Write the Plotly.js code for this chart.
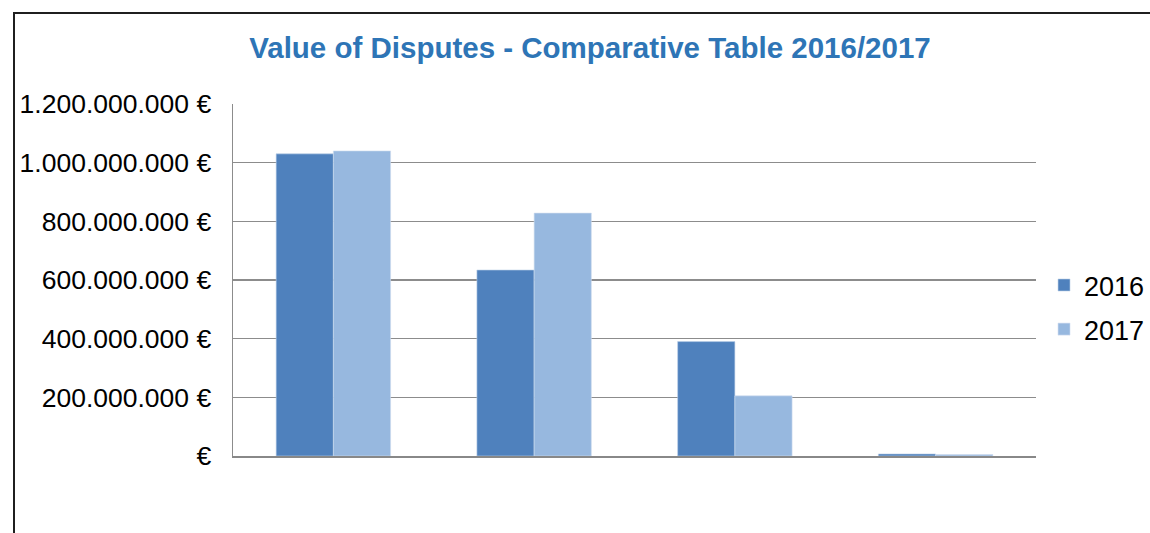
<!DOCTYPE html>
<html>
<head>
<meta charset="utf-8">
<script src="https://cdn.plot.ly/plotly-3.0.1.min.js"></script>
<style>
  html, body { margin: 0; padding: 0; background: #ffffff; overflow: hidden; }
  #wrap { position: relative; width: 1150px; height: 533px; overflow: hidden; }
  #chart { position: absolute; left: 0; top: 0; width: 1150px; height: 533px; }
  #frameTop { position: absolute; left: 13px; top: 12px; width: 1137px; height: 2px; background: #1f1f1f; pointer-events: none; }
  #frameLeft { position: absolute; left: 13px; top: 12px; width: 2px; height: 521px; background: #1f1f1f; pointer-events: none; }
</style>
</head>
<body>
<div id="wrap">
  <div id="chart"></div>
  <div id="frameTop"></div>
  <div id="frameLeft"></div>
</div>
<script>
// Data
const categories = ["Group 1", "Group 2", "Group 3", "Group 4"];
const values2016 = [1030000000, 634000000, 390000000, 7000000];
const values2017 = [1040000000, 828000000, 205000000, 5000000];
const seriesNames = ["2016", "2017"];
const yTickValues = [0, 200000000, 400000000, 600000000, 800000000, 1000000000, 1200000000];
const yTickLabels = ["€", "200.000.000 €", "400.000.000 €", "600.000.000 €", "800.000.000 €", "1.000.000.000 €", "1.200.000.000 €"];
const chartTitle = "Value of Disputes - Comparative Table 2016/2017";

const traces = [
  { type: "bar", name: seriesNames[0], x: categories, y: values2016,
    marker: { color: "#4F81BD", line: { color: "#BCD0E8", width: 0.6 } },
    legendgroup: "a" },
  { type: "bar", name: seriesNames[1], x: categories, y: values2017,
    marker: { color: "#97B8DF", line: { color: "#D0DEF0", width: 0.6 } },
    legendgroup: "b" }
];

const layout = {
  width: 1150, height: 533,
  margin: { l: 233, r: 114, t: 104, b: 77, pad: 0, autoexpand: false },
  paper_bgcolor: "#ffffff", plot_bgcolor: "#ffffff",
  font: { family: "Liberation Sans, Arial, sans-serif", color: "#000000", size: 26.5 },
  title: { text: "<b>" + chartTitle + "</b>", x: 0.513, xref: "container", xanchor: "center",
           y: 0.91, yref: "container", yanchor: "middle",
           font: { family: "Liberation Sans, Arial, sans-serif", size: 29.5, color: "#2E75B6" } },
  barmode: "group", bargap: 0.43, bargroupgap: 0,
  showlegend: true,
  legend: { x: 1.01, xanchor: "left", y: 0.422, yanchor: "middle",
            font: { size: 27, color: "#000000" }, traceorder: "grouped", tracegroupgap: 6,
            bgcolor: "rgba(0,0,0,0)", borderwidth: 0 },
  xaxis: { showticklabels: false, ticks: "", showgrid: false, showline: true,
           linecolor: "#888888", linewidth: 1.5, zeroline: false, fixedrange: true },
  yaxis: { range: [0, 1200000000], tickvals: yTickValues, ticktext: yTickLabels,
           showgrid: true, gridcolor: "#8c8c8c", gridwidth: 1.5, showline: true,
           linecolor: "#8c8c8c", linewidth: 1.5, zeroline: false, ticks: "",
           ticklabelstandoff: 15, tickfont: { size: 26.5, color: "#000000" }, fixedrange: true }
};

Plotly.newPlot("chart", traces, layout, { displayModeBar: false, staticPlot: true });
</script>
</body>
</html>
